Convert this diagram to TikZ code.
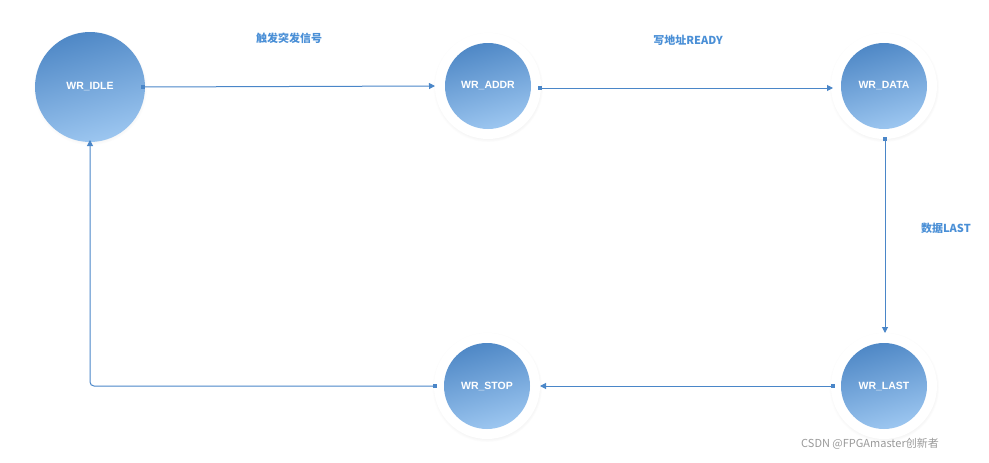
\documentclass[tikz,border=0pt]{standalone}
\usepackage{fontspec}
\setmainfont{Liberation Sans}
\newfontfamily\cjk{Noto Sans CJK SC}
\usetikzlibrary{arrows.meta,shadows}
\definecolor{lineblue}{HTML}{4A86C8}
\definecolor{dark}{HTML}{4F88C6}
\definecolor{light}{HTML}{9CC6F0}
\definecolor{lbl}{HTML}{4A8FD6}
\tikzset{x=1pt,y=1pt,
 ring/.style={circle,fill=white,minimum size=106pt,inner sep=0pt,
   circular drop shadow={shadow xshift=0pt,shadow yshift=-1pt,shadow scale=1.04,opacity=0.18}},
 state/.style={circle,minimum size=#1,inner sep=0pt,top color=dark,bottom color=light,
   shading angle=15,text=white,font=\bfseries\fontsize{10.5}{12}\selectfont},
 state/.default=86pt,
 conn/.style={draw=lineblue,line width=1pt,-{Triangle[length=6pt,width=6pt]}},
 sq/.style={fill=lineblue,minimum size=4pt,inner sep=0pt},
 lab/.style={text=lbl,font=\cjk\bfseries\fontsize{11}{13}\selectfont}}
\begin{document}
\begin{tikzpicture}
\useasboundingbox (0,0) rectangle (989,-463);
\node[ring] (r2) at (488,-86) {};
\node[ring] (r3) at (884,-86) {};
\node[ring] (r4) at (884,-386) {};
\node[ring] (r5) at (487,-386) {};
\node[state=110pt,circular drop shadow={shadow xshift=0pt,shadow yshift=-1pt,shadow scale=1.04,opacity=0.15}] (idle) at (90,-87) {WR\_IDLE};
\node[state] (addr) at (488,-86) {WR\_ADDR};
\node[state] (data) at (884,-86) {WR\_DATA};
\node[state] (last) at (884,-386) {WR\_LAST};
\node[state] (stop) at (487,-386) {WR\_STOP};
\coordinate (corner) at (90,-386);
\draw[conn] ([xshift=53pt]idle.center) -- ([xshift=-53pt]addr.center);
\draw[conn] ([xshift=52pt,yshift=-2pt]addr.center) -- ([xshift=-51pt,yshift=-2pt]data.center);
\draw[conn] ([xshift=1pt,yshift=-53pt]data.center) -- ([xshift=1pt,yshift=53pt]last.center);
\draw[conn] ([xshift=-51pt]last.center) -- ([xshift=53pt]stop.center);
\draw[conn,rounded corners=4pt] ([xshift=-52pt]stop.center) -- (corner) -- ([yshift=-53pt]idle.center);
\node[sq] (s1) at ([xshift=53pt]idle.center) {};
\node[sq] (s2) at ([xshift=52pt,yshift=-2pt]addr.center) {};
\node[sq] (s3) at ([xshift=1pt,yshift=-53pt]data.center) {};
\node[sq] (s4) at ([xshift=-51pt]last.center) {};
\node[sq] (s5) at ([xshift=-52pt]stop.center) {};
\node[lab] (l1) at (289,-38) {触发突发信号};
\node[lab] (l2) at (688,-40) {写地址READY};
\node[lab] (l3) at (946,-228) {数据LAST};
\node[text=gray!80,font=\cjk\fontsize{11}{13}\selectfont] (wm) at (870,-444) {CSDN @FPGAmaster创新者};
\end{tikzpicture}
\end{document}
